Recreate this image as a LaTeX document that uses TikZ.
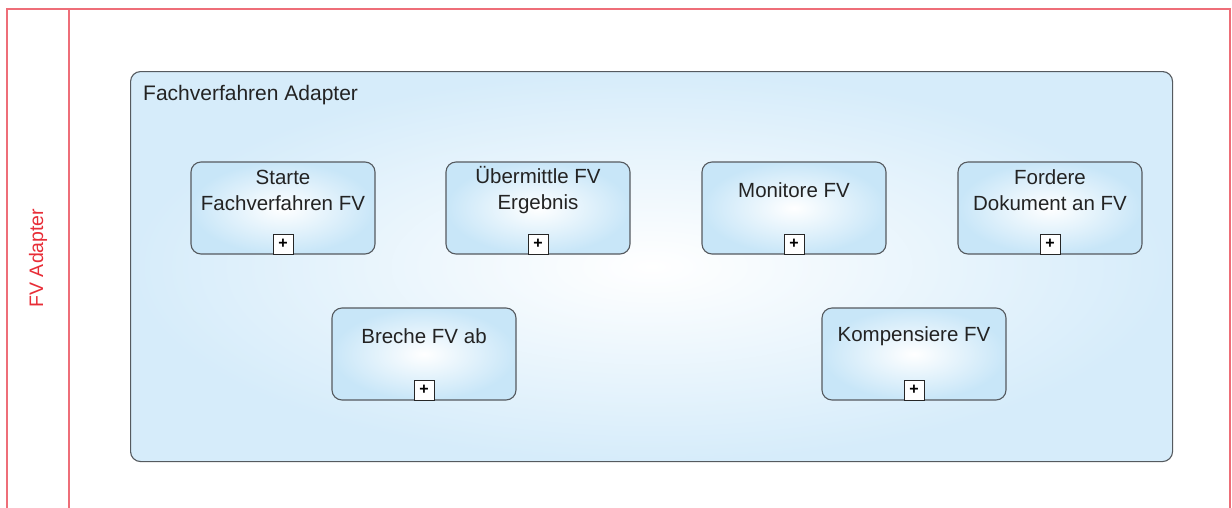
\documentclass[tikz,border=0pt]{standalone}
\usepackage{fontspec}
\setmainfont{Liberation Sans}
\begin{document}
\begin{tikzpicture}[x=1pt,y=-1pt,
  poolline/.style={draw=poolred, line width=1.4pt},
  groupbox/.style={draw=boxgray, line width=1.1pt, rounded corners=10pt, inner color=white, outer color=boxblue},
  taskbox/.style={draw=boxgray, line width=1.1pt, rounded corners=10pt, minimum width=184pt, minimum height=92pt, inner sep=0pt, inner color=white, outer color=taskblue},
  tasktext/.style={font=\fontsize{20.5}{26}\selectfont, text=textgray, align=center, inner sep=0pt},
  marker/.style={draw=black!85, line width=1pt, fill=white, minimum size=20pt, inner sep=0pt, font=\bfseries\fontsize{16}{16}\selectfont, anchor=south}
]
\definecolor{poolred}{RGB}{238,110,120}
\definecolor{lanetext}{RGB}{232,45,55}
\definecolor{boxgray}{RGB}{85,90,95}
\definecolor{boxblue}{RGB}{214,236,250}
\definecolor{taskblue}{RGB}{200,230,248}
\definecolor{textgray}{RGB}{35,35,35}
\useasboundingbox (0,0) rectangle (1232,507);
\fill[white] (0,0) rectangle (1232,507);
% pool
\draw[poolline] (7,530) -- (7,9) -- (1230,9) -- (1230,530);
\draw[poolline] (69,9) -- (69,530);
\node[rotate=90, text=lanetext, font=\fontsize{19.5}{19.5}\selectfont] (lane) at (38,258) {FV Adapter};
% group
\node[groupbox, minimum width=1042pt, minimum height=390pt, anchor=north west] (grp) at (130,71) {};
\node[anchor=west, text=textgray, font=\fontsize{21}{21}\selectfont, inner sep=0pt] (grplabel) at (143,95) {Fachverfahren Adapter};
% tasks
\foreach \n/\x/\y/\t in {t1/283/208/{Starte\\Fachverfahren FV},
                         t2/538/208/{Übermittle FV\\Ergebnis},
                         t3/794/208/{Monitore FV},
                         t4/1050/208/{Fordere\\Dokument an FV},
                         t5/424/354/{Breche FV ab},
                         t6/914/354/{Kompensiere FV}}{
  \node[taskbox] (\n) at (\x,\y) {};
  \node[tasktext] (\n txt) at ([yshift=-29pt]\n.north) {\t};
  \node[marker] (\n m) at (\n.south) {+};
}
\end{tikzpicture}
\end{document}
